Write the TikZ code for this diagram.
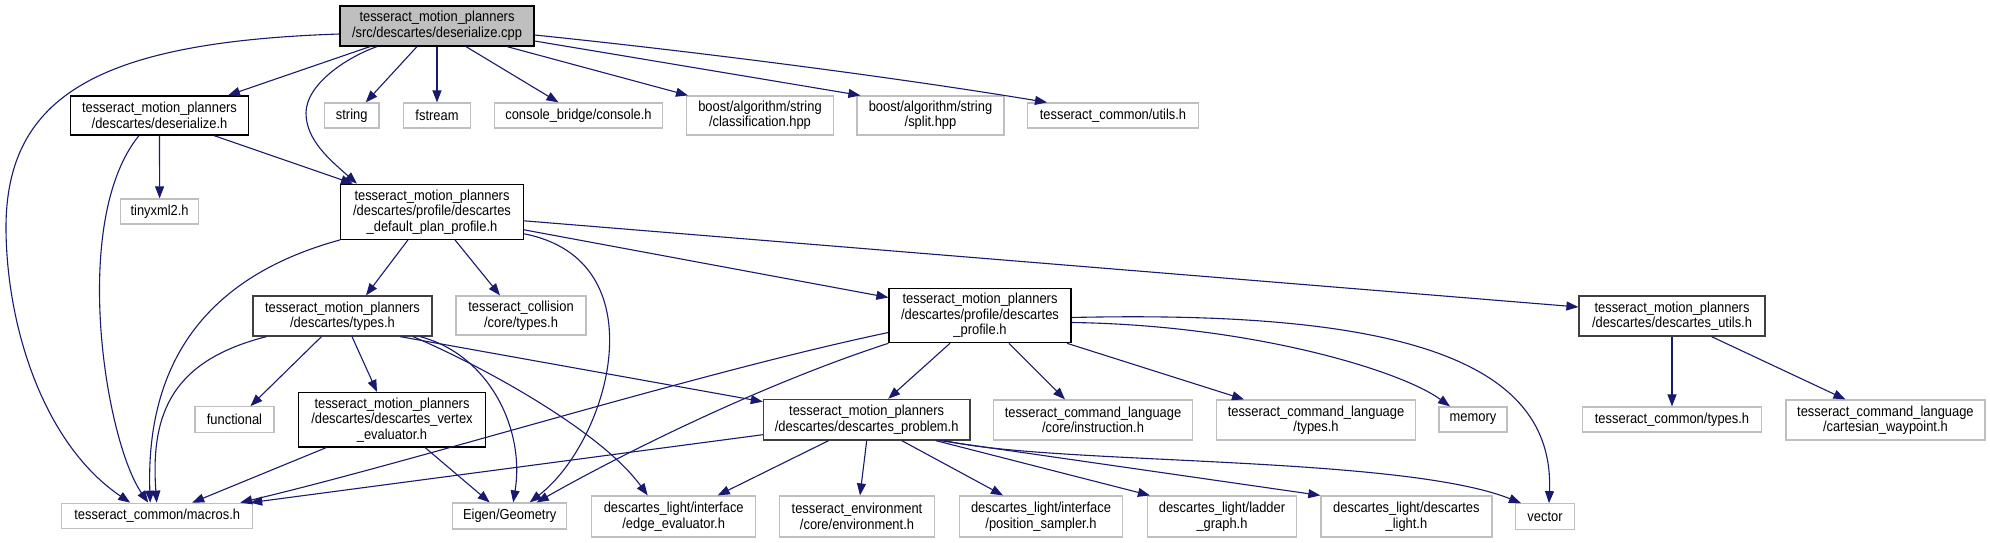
\documentclass[tikz,border=0pt]{standalone}
\usepackage{fontspec}
\newfontfamily\gvfont[FakeStretch=0.89]{Liberation Sans}
\usetikzlibrary{arrows.meta}
\definecolor{edgeblue}{HTML}{191970}
\definecolor{extgray}{HTML}{BFBFBF}
\definecolor{darkborder}{HTML}{404040}
\definecolor{rootfill}{HTML}{BFBFBF}
\tikzset{
  gbox/.style={draw=black, line width=1.2pt, fill=white, inner sep=0pt, align=center,
    font=\gvfont\fontsize{14.5}{15.5}\selectfont, text=black},
  extbox/.style={gbox, draw=extgray},
  dkbox/.style={gbox, draw=darkborder},
  rootbox/.style={gbox, fill=rootfill},
  dep/.style={draw=edgeblue, line width=1.1pt, -{Triangle[length=12pt,width=9pt]}},
  sz/.style 2 args={minimum width=#1pt, minimum height=#2pt}
}
\begin{document}
\begin{tikzpicture}[x=1pt, y=-1pt]
\fill[white] (0,0) rectangle (1990,543);
\useasboundingbox (0,0) rectangle (1990,543);

% nodes
\node[rootbox, sz={194}{40}] (root) at (437,26) {tesseract\_motion\_planners\\/src/descartes/deserialize.cpp};
\node[gbox, sz={178}{39}] (deser) at (159.5,115.5) {tesseract\_motion\_planners\\/descartes/deserialize.h};
\node[extbox, sz={54.5}{25}] (string) at (351.7,115.5) {string};
\node[extbox, sz={66.5}{25}] (fstream) at (437,115.5) {fstream};
\node[extbox, sz={168}{25}] (console) at (578.5,115.5) {console\_bridge/console.h};
\node[extbox, sz={146.5}{39}] (classif) at (760,115.5) {boost/algorithm/string\\/classification.hpp};
\node[extbox, sz={147}{39}] (split) at (930.5,115.5) {boost/algorithm/string\\/split.hpp};
\node[extbox, sz={171}{25}] (utils) at (1113,115.5) {tesseract\_common/utils.h};
\node[extbox, sz={78}{25}] (tinyxml) at (159.6,211.5) {tinyxml2.h};
\node[gbox, sz={182.6}{55}] (defplan) at (432,211.8) {tesseract\_motion\_planners\\/descartes/profile/descartes\\\_default\_plan\_profile.h};
\node[dkbox, sz={179}{40}] (types) at (342.5,316) {tesseract\_motion\_planners\\/descartes/types.h};
\node[extbox, sz={130}{39}] (collision) at (521,315.5) {tesseract\_collision\\/core/types.h};
\node[gbox, sz={182}{54.4}] (dprofile) at (980,315.5) {tesseract\_motion\_planners\\/descartes/profile/descartes\\\_profile.h};
\node[dkbox, sz={186}{40}] (dutils) at (1672,316) {tesseract\_motion\_planners\\/descartes/descartes\_utils.h};
\node[extbox, sz={79}{26}] (functional) at (234.5,419.7) {functional};
\node[gbox, sz={186.6}{54.4}] (vertex) at (392,419.7) {tesseract\_motion\_planners\\/descartes/descartes\_vertex\\\_evaluator.h};
\node[dkbox, sz={206.6}{40.6}] (dproblem) at (866.7,419.7) {tesseract\_motion\_planners\\/descartes/descartes\_problem.h};
\node[extbox, sz={198.7}{40}] (instruction) at (1093,420) {tesseract\_command\_language\\/core/instruction.h};
\node[extbox, sz={199}{40}] (cmdtypes) at (1316,420) {tesseract\_command\_language\\/types.h};
\node[extbox, sz={68}{25}] (memory) at (1473,419.5) {memory};
\node[extbox, sz={178.5}{25}] (ctypes) at (1672,419.5) {tesseract\_common/types.h};
\node[extbox, sz={199}{40}] (cartesian) at (1885.4,420) {tesseract\_command\_language\\/cartesian\_waypoint.h};
\node[extbox, sz={191}{25.5}] (macros) at (157.2,516) {tesseract\_common/macros.h};
\node[extbox, sz={114}{26}] (eigen) at (509.7,516) {Eigen/Geometry};
\node[extbox, sz={164}{41}] (edgeeval) at (673.7,516.5) {descartes\_light/interface\\/edge\_evaluator.h};
\node[extbox, sz={154.4}{41}] (environment) at (857,516.5) {tesseract\_environment\\/core/environment.h};
\node[extbox, sz={163}{41}] (possampler) at (1041,516.5) {descartes\_light/interface\\/position\_sampler.h};
\node[extbox, sz={149}{41}] (ladder) at (1222,516.5) {descartes\_light/ladder\\\_graph.h};
\node[extbox, sz={171}{41}] (dlight) at (1406.4,516.5) {descartes\_light/descartes\\\_light.h};
\node[extbox, sz={59}{25.6}] (vector) at (1545,516.5) {vector};

% edges from root
\draw[dep] ([xshift=-67pt]root.south) -- ([xshift=68.5pt]deser.north);
\draw[dep] ([xshift=-60pt]root.south) .. controls (345,58) and (306,85) .. (306,113) .. controls (306,140) and (330,160) .. ([xshift=-75pt]defplan.north);
\draw[dep] ([xshift=-20pt]root.south) -- ([xshift=14pt]string.north);
\draw[dep] (root.south) -- (fstream.north);
\draw[dep] ([xshift=29pt]root.south) -- ([xshift=-20pt]console.north);
\draw[dep] ([xshift=70pt]root.south) -- ([xshift=-72pt]classif.north);
\draw[dep] ([yshift=-15pt]root.east) -- ([xshift=4pt]split.north west);
\draw[dep] ([yshift=-9pt]root.east) .. controls (700,52) and (900,78) .. ([xshift=-66pt]utils.north);
\draw[dep] ([yshift=-8pt]root.west) .. controls (100,42) and (5,95) .. (6,230) .. controls (7,330) and (45,445) .. ([xshift=-27pt]macros.north);

% deserialize.h
\draw[dep] (deser.south) -- (tinyxml.north);
\draw[dep] ([xshift=54.5pt]deser.south) -- ([xshift=-79pt]defplan.north);
\draw[dep] ([xshift=-20.5pt]deser.south) .. controls (70,220) and (105,440) .. ([xshift=-9pt]macros.north);

% default plan profile
\draw[dep] ([xshift=-24pt]defplan.south) -- ([xshift=23.5pt]types.north);
\draw[dep] ([xshift=23pt]defplan.south) -- ([xshift=-21pt]collision.north);
\draw[dep] ([yshift=-18pt]defplan.east) -- ([yshift=18pt]dprofile.west);
\draw[dep] ([yshift=-9pt]defplan.east) -- ([yshift=9pt]dutils.west);
\draw[dep] ([yshift=-22pt]defplan.east) .. controls (660,260) and (610,440) .. ([xshift=20pt]eigen.north);
\draw[dep] (defplan.south west) .. controls (230,270) and (145,340) .. ([xshift=-7pt]macros.north);

% types.h
\draw[dep] ([xshift=-21pt]types.south) -- ([xshift=16pt]functional.north);
\draw[dep] ([xshift=9.5pt]types.south) -- ([xshift=-15pt]vertex.north);
\draw[dep] ([xshift=-76pt]types.south) .. controls (175,360) and (150,410) .. ([xshift=-0.5pt]macros.north);
\draw[dep] ([xshift=77.5pt]types.south) .. controls (490,355) and (525,430) .. ([xshift=3.5pt]eigen.north);
\draw[dep] ([xshift=70.5pt]types.south) .. controls (480,365) and (600,430) .. ([xshift=-26pt]edgeeval.north);
\draw[dep] ([xshift=57.5pt]types.south) -- ([yshift=18pt]dproblem.west);

% vertex evaluator
\draw[dep] ([xshift=-65.5pt]vertex.south) -- ([xshift=35pt]macros.north);
\draw[dep] ([xshift=33pt]vertex.south) -- ([xshift=-20pt]eigen.north);

% descartes profile
\draw[dep] ([xshift=-30pt]dprofile.south) -- ([xshift=21.5pt]dproblem.north);
\draw[dep] ([xshift=29pt]dprofile.south) -- ([xshift=-28pt]instruction.north);
\draw[dep] ([xshift=87pt]dprofile.south) -- ([xshift=-72pt]cmdtypes.north);
\draw[dep] ([yshift=-7pt]dprofile.east) .. controls (1250,325) and (1400,370) .. ([xshift=-23pt]memory.north);
\draw[dep] ([yshift=-2pt]dprofile.east) .. controls (1400,310) and (1555,360) .. ([xshift=4pt]vector.north);
\draw[dep] ([yshift=-17pt]dprofile.west) .. controls (700,372) and (420,460) .. ([xshift=83pt]macros.north);
\draw[dep] (dprofile.south west) .. controls (760,385) and (620,455) .. ([xshift=27pt]eigen.north);

% descartes problem
\draw[dep] ([yshift=-15pt]dproblem.west) -- ([xshift=93pt]macros.north);
\draw[dep] ([xshift=-38pt]dproblem.south) -- ([xshift=44pt]edgeeval.north);
\draw[dep] (dproblem.south) -- ([xshift=3pt]environment.north);
\draw[dep] ([xshift=35pt]dproblem.south) -- ([xshift=-38pt]possampler.north);
\draw[dep] ([xshift=69pt]dproblem.south) -- ([xshift=3pt]ladder.north west);
\draw[dep] ([xshift=73pt]dproblem.south) -- (dlight.north west);
\draw[dep] ([xshift=78pt]dproblem.south) .. controls (1050,465) and (1400,455) .. ([xshift=-24pt]vector.north);

% descartes utils
\draw[dep] (dutils.south) -- (ctypes.north);
\draw[dep] ([xshift=39.5pt]dutils.south) -- ([xshift=-40pt]cartesian.north);
\end{tikzpicture}
\end{document}
